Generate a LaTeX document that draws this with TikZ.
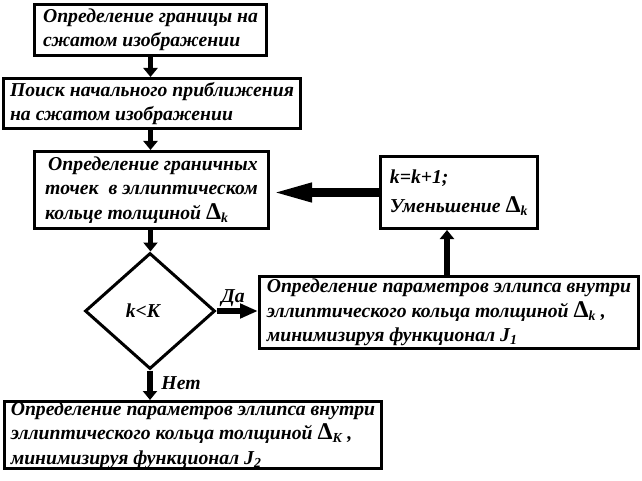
\documentclass[tikz,border=0pt]{standalone}
\usepackage{fontspec}
\setmainfont{Liberation Serif}
\usetikzlibrary{arrows.meta,shapes.geometric}
\newcommand{\dk}[1]{{\fontsize{24}{24}\selectfont\upshape Δ}\textsubscript{#1}}
\begin{document}
\begin{tikzpicture}[x=1pt,y=-1pt,
  every node/.style={font=\fontsize{19.7}{24.5}\selectfont\bfseries\itshape},
  box/.style={draw, line width=3pt, rectangle, inner sep=0pt, align=left},
  arr/.style={line width=5.5pt, -{Triangle[length=9pt,width=14pt]}},
  bigarr/.style={line width=9pt, -{Triangle[length=42pt,width=17pt]}}]
\useasboundingbox (0,0) rectangle (642,481);
\node[box, minimum width=232, minimum height=51] (b1) at (150.5,30) {Определение границы на\\сжатом изображении};
\node[box, minimum width=297, minimum height=50] (b2) at (152,103.5) {Поиск начального приближения\\на сжатом изображении};
\node[box, minimum width=234, minimum height=77] (b3) at (151.5,190) {\hspace*{3pt}Определение граничных\\точек\ \ в эллиптическом\\кольце толщиной \dk{k}};
\node[box, minimum width=157, minimum height=72] (bk) at (459,192.5) {k=k+1;\\[5pt]Уменьшение \dk{k}};
\node[box, minimum width=379, minimum height=72] (bj1) at (449,312.5) {Определение параметров эллипса внутри\\эллиптического кольца толщиной \dk{k} ,\\минимизируя функционал J\textsubscript{1}};
\node[box, minimum width=377, minimum height=67] (bj2) at (193,435) {Определение параметров эллипса внутри\\эллиптического кольца толщиной \dk{K} ,\\минимизируя функционал J\textsubscript{2}};
\node[diamond, draw, line width=3pt, minimum width=130, minimum height=116, inner sep=0pt] (d) at (150,311) {k<K\hspace*{14pt}};
\coordinate (ux) at (447,0);
\draw[arr] (b1.south) -- (b1.south |- b2.north);
\draw[arr] (b2.south -| b1.south) -- (b1.south |- b3.north);
\draw[arr] (b3.south -| b1.south) -- (b1.south |- d.north);
\draw[bigarr] (bk.west) -- (b3.east |- bk.west);
\draw[arr] (bj1.north -| ux) -- (bk.south -| ux);
\draw[arr, -{Triangle[length=18pt,width=14pt]}] (d.east) -- (bj1.west |- d.east);
\draw[arr] (d.south) -- (d.south |- bj2.north);
\node (da) at (233,298) {Да};
\node (net) at (181,383) {Нет};
\end{tikzpicture}
\end{document}
